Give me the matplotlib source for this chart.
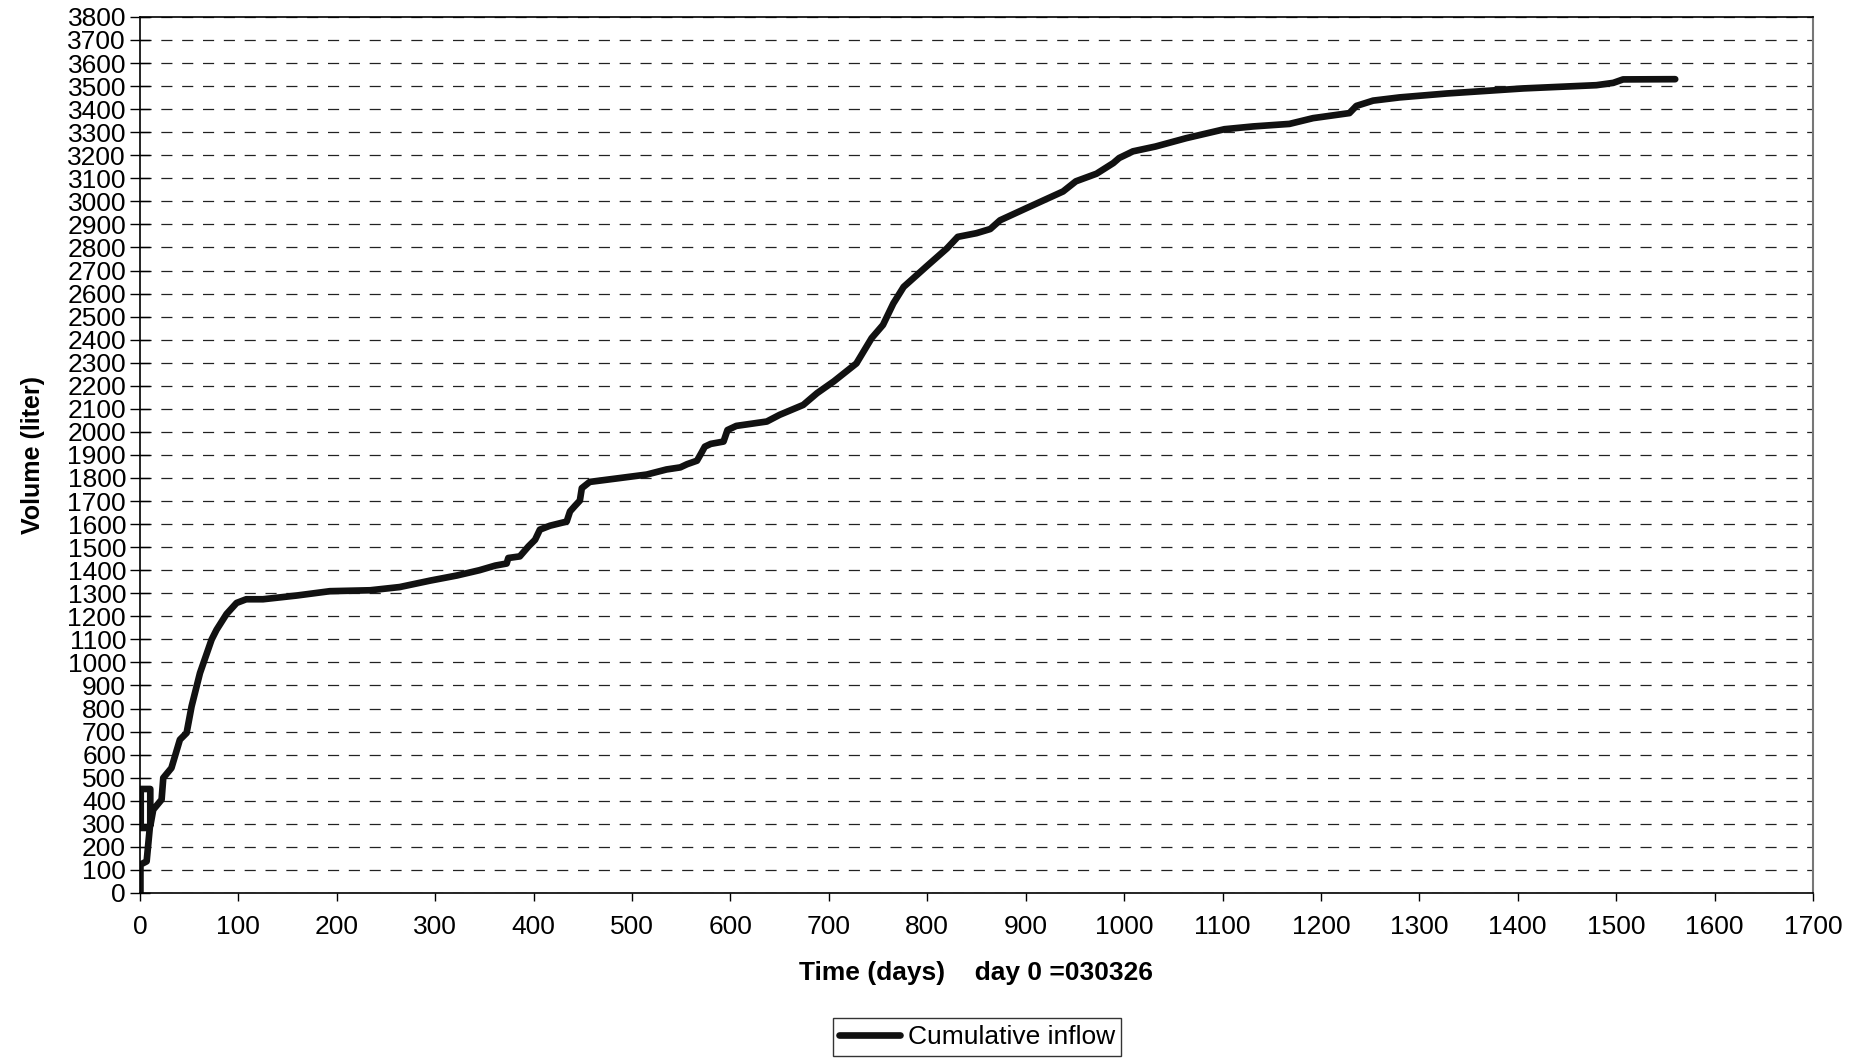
import matplotlib.pyplot as plt
from matplotlib.ticker import MultipleLocator

plt.rcParams['font.family'] = ['Liberation Sans', 'DejaVu Sans']
plt.rcParams['lines.scale_dashes'] = False

# cumulative inflow (the first few points form the odd box near day 0)
days = [0.5, 0.5, 6.8, 10, 0.8, 0.8, 10.5, 10.5, 13.5, 22, 23.7, 32, 40.6, 47.4, 52.5,
        61, 72.8, 77.9, 88, 98.2, 108, 125, 159, 193, 234, 264, 295, 322, 345, 361,
        372.6, 374.3, 386, 394.7, 401.5, 406.4, 416.6, 433.6, 437, 442, 447, 449, 457,
        488, 515, 535, 549, 556, 566, 570, 574, 580, 593, 597, 606, 637, 650, 674,
        688, 705, 728, 743.5, 755, 765.5, 776, 799, 820, 831, 850, 864, 874, 901,
        938, 951, 972, 989, 995, 1009, 1032, 1063, 1102, 1131, 1168, 1192, 1229,
        1236, 1253, 1280, 1328, 1406, 1480, 1497, 1507, 1560]
volume = [0, 123, 137, 282, 282, 451, 451, 290, 361, 405, 499, 542, 665, 694, 810,
          954, 1099, 1142, 1210, 1258, 1274, 1274, 1290, 1309, 1313, 1327, 1355, 1377, 1400, 1420,
          1429, 1453, 1460, 1503, 1532, 1576, 1593, 1611, 1655, 1679, 1702, 1756, 1783,
          1800, 1815, 1837, 1846, 1860, 1875, 1905, 1936, 1948, 1958, 2008, 2026, 2045, 2074, 2117,
          2168, 2219, 2297, 2407, 2464, 2557, 2629, 2717, 2796, 2846, 2862, 2880, 2918, 2971,
          3043, 3087, 3120, 3166, 3188, 3217, 3238, 3274, 3313, 3325, 3336, 3361, 3383,
          3414, 3437, 3451, 3468, 3490, 3504, 3514, 3529, 3530]

fig = plt.figure(figsize=(18.61, 10.59), dpi=100, facecolor='white')
ax = fig.add_axes([0.0752, 0.1568, 0.8990, 0.8272])

ax.plot(days, volume, color='#111111', lw=4.8, solid_joinstyle='round',
        solid_capstyle='round', label='Cumulative inflow')

ax.set_xlim(0, 1700)
ax.set_ylim(0, 3800)
ax.xaxis.set_major_locator(MultipleLocator(100))
ax.yaxis.set_major_locator(MultipleLocator(100))

ax.yaxis.grid(True, color='#222222', lw=0.9, linestyle=(0, (8, 7)))
ax.set_axisbelow(True)

ax.tick_params(axis='y', direction='inout', length=14, width=1, labelsize=19, pad=3)
ax.tick_params(axis='x', direction='out', length=6, width=1, labelsize=19, pad=10)

for s in ['left', 'bottom', 'top']:
    ax.spines[s].set_color('black')
    ax.spines[s].set_linewidth(1.2)
ax.spines['right'].set_color('#777777')
ax.spines['right'].set_linewidth(1.5)

ax.set_ylabel('Volume (liter)', fontsize=18, fontweight='bold', labelpad=16)
ax.set_xlabel('Time (days)    day 0 =030326', fontsize=19, fontweight='bold', labelpad=16)

# legend sits under the middle of the plot area
leg = fig.legend(loc='center', bbox_to_anchor=(0.525, 0.0208), fontsize=19,
                 frameon=True, fancybox=False, handlelength=2.3, borderpad=0.25,
                 handletextpad=0.3)
leg.get_frame().set_edgecolor('black')
leg.get_frame().set_linewidth(1)

fig.savefig('out.png', dpi=100, facecolor='white')
